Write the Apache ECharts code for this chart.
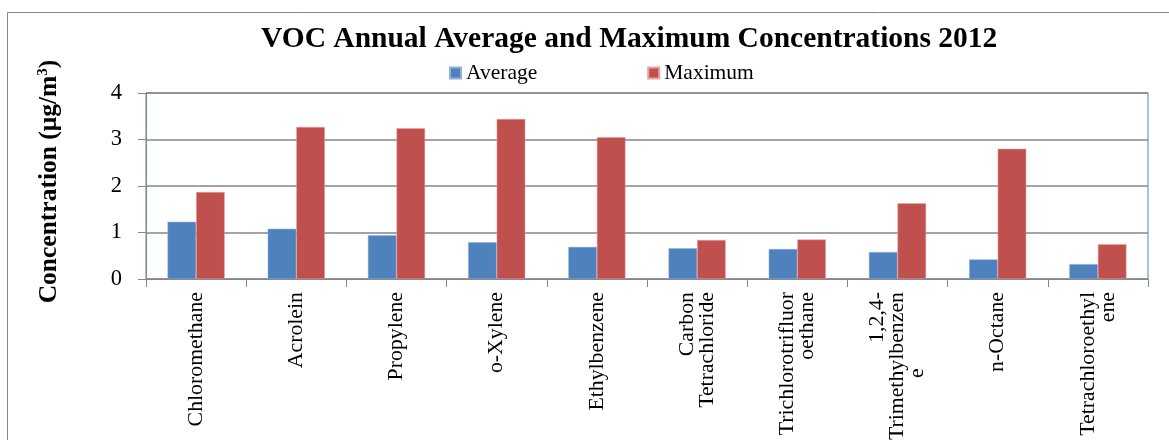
<!DOCTYPE html>
<html>
<head>
<meta charset="utf-8">
<script src="https://cdn.jsdelivr.net/npm/echarts@6/dist/echarts.min.js"></script>
<style>html,body{margin:0;padding:0;background:#fff;}#c{width:1169px;height:440px;}</style>
</head>
<body>
<div id="c"></div>
<script>
const categories = ['Chloromethane','Acrolein','Propylene','o-Xylene','Ethylbenzene','Carbon\nTetrachloride','Trichlorotrifluor\noethane','1,2,4-\nTrimethylbenzen\ne\u00a0\u00a0\u00a0\u00a0\u00a0\u00a0\u00a0\u00a0\u00a0\u00a0\u00a0\u00a0\u00a0\u00a0','n-Octane','Tetrachloroethyl\nene'];
const averageValues = [1.23, 1.08, 0.94, 0.79, 0.69, 0.66, 0.645, 0.58, 0.42, 0.32];
const maximumValues = [1.87, 3.27, 3.24, 3.44, 3.05, 0.84, 0.85, 1.63, 2.80, 0.75];
const yTicks = [0, 1, 2, 3, 4];

const FONT = '"Liberation Serif", "Times New Roman", serif';
const chart = echarts.init(document.getElementById('c'));
chart.setOption({
  backgroundColor: '#fff',
  animation: false,
  textStyle: { fontFamily: FONT },
  graphic: [{
    type: 'rect', shape: { x: 7.5, y: 12.5, width: 1300, height: 600 },
    style: { fill: 'none', stroke: '#868686', lineWidth: 1 }, z: 0, silent: true
  }],
  title: {
    text: 'VOC Annual Average and Maximum Concentrations 2012',
    left: 261, top: 24, padding: 0,
    textStyle: { fontFamily: FONT, fontSize: 29.5, fontWeight: 'bold', color: '#000' }
  },
  legend: {
    data: ['Average', 'Maximum'],
    left: 449, top: 62, padding: 0,
    itemWidth: 11, itemHeight: 11, itemGap: 110,
    icon: 'rect',
    textStyle: { fontFamily: FONT, fontSize: 21.5, color: '#000' }
  },
  grid: {
    left: 146, top: 93, right: 21, bottom: 161,
    containLabel: false, outerBoundsMode: 'none',
    show: true, borderColor: '#4F81BD', borderWidth: 1, backgroundColor: 'transparent'
  },
  xAxis: {
    type: 'category',
    data: categories,
    axisLine: { lineStyle: { color: '#868686', width: 1 } },
    axisTick: { show: true, alignWithLabel: false, length: 8, lineStyle: { color: '#868686' } },
    axisLabel: {
      rotate: 90, interval: 0, margin: 13,
      fontFamily: FONT, fontSize: 21.8, lineHeight: 20, color: '#000'
    }
  },
  yAxis: {
    type: 'value',
    min: yTicks[0], max: yTicks[yTicks.length - 1], interval: 1,
    name: '{a|Concentration (μg/m}{s|3}{a|)}',
    nameLocation: 'middle', nameGap: 84,
    nameTextStyle: {
      padding: [0, 0, 0, 9],
      rich: {
        a: { fontFamily: FONT, fontSize: 25.5, fontWeight: 'bold', color: '#000' },
        s: { fontFamily: FONT, fontSize: 15, fontWeight: 'bold', color: '#000', verticalAlign: 'top', padding: [0, 0, 11, 0] }
      }
    },
    axisLine: { show: true, lineStyle: { color: '#868686', width: 1 } },
    axisTick: { show: true, length: 8, lineStyle: { color: '#868686' } },
    axisLabel: { margin: 24, fontFamily: FONT, fontSize: 22.5, color: '#000' },
    splitLine: { show: true, lineStyle: { color: '#868686', width: 1.5 } }
  },
  series: [
    { name: 'Average', type: 'bar', data: averageValues, barGap: '0%', barCategoryGap: '43%',
      itemStyle: { color: '#4F81BD', borderColor: '#8fb0da', borderWidth: 0.5 } },
    { name: 'Maximum', type: 'bar', data: maximumValues, barGap: '0%', barCategoryGap: '43%',
      itemStyle: { color: '#C0504D', borderColor: '#e8a3a1', borderWidth: 0.5 } }
  ]
});
</script>
</body>
</html>
